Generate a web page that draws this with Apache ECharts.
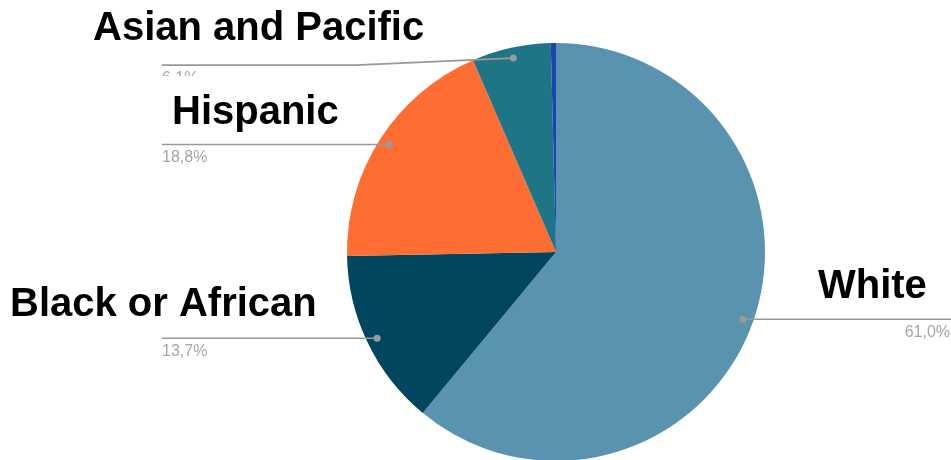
<!DOCTYPE html>
<html>
<head>
<meta charset="utf-8">
<script src="https://cdn.jsdelivr.net/npm/echarts@6/dist/echarts.min.js"></script>
<style>
html,body{margin:0;padding:0;background:#fff;}
#main{width:951px;height:460px;}
</style>
</head>
<body>
<div id="main"></div>
<script>
// ---- data ----
const categories = ['White', 'Black or African', 'Hispanic', 'Asian and Pacific', 'Other'];
const values = [61.0, 13.7, 18.8, 6.1, 0.4];
const showLabel = [true, true, true, true, false];
const sliceColors = ['#5a93b0', '#01455f', '#fe6d32', '#1e7585', '#1a44b0'];
// big category titles (text overlays)
const titleTexts = ['Asian and Pacific', 'Hispanic', 'Black or African', 'White'];
const titlePos = [[93, 29], [172, 113], [10, 305], [818, 287]];
// small extra vertical shift of a label line (px)
const lineDrop = [0, 0, 0, 7, 0];

const FONT = '"Liberation Sans", Arial, sans-serif';
const CX = 556, CY = 252, R = 209;
const dots = [];
const lines = [];

const chart = echarts.init(document.getElementById('main'), null, {renderer: 'canvas'});

function buildGraphic() {
  const g = [];
  titleTexts.forEach((t, i) => {
    g.push({
      type: 'text', id: 'title' + i, x: titlePos[i][0], y: titlePos[i][1], z: 50,
      style: {text: t, fill: '#000', font: 'bold 40px ' + FONT, verticalAlign: 'middle'}
    });
  });
  g.push({type: 'rect', id: 'mask', z: 60, shape: {x: 150, y: 76, width: 120, height: 16}, style: {fill: '#fff'}});
  lines.forEach((pts, i) => {
    if (!pts) return;
    g.push({type: 'polyline', id: 'line' + i, z: 65, shape: {points: pts}, style: {stroke: '#999', lineWidth: 1.6, fill: null}});
  });
  dots.forEach((d, i) => {
    if (!d) return;
    g.push({type: 'circle', id: 'dot' + i, z: 70, shape: {cx: d[0], cy: d[1], r: 3.5}, style: {fill: '#9a9a9a'}});
  });
  return g;
}

const option = {
  animation: false,
  backgroundColor: '#fff',
  series: [{
    type: 'pie',
    center: [CX, CY],
    radius: [0, R],
    startAngle: 90,
    clockwise: true,
    avoidLabelOverlap: false,
    itemStyle: {borderWidth: 0},
    emphasis: {disabled: true},
    data: categories.map((c, i) => ({
      name: c,
      value: values[i],
      itemStyle: {color: sliceColors[i]},
      label: {show: showLabel[i]},
      labelLine: {show: showLabel[i]}
    })),
    label: {
      show: true,
      position: 'outside',
      color: '#a6a6a6',
      fontSize: 16,
      fontFamily: FONT,
      formatter: (p) => p.value.toFixed(1).replace('.', ',') + '%'
    },
    labelLine: {
      show: true,
      length: 20,
      length2: 40,
      lineStyle: {color: '#999', width: 1.6, opacity: 0}
    },
    labelLayout: function (p) {
      const pts = p.labelLinePoints;
      if (!pts || !pts.length) return {};
      const p0 = pts[0];
      const dot = [CX + (p0[0] - CX) * 0.95, CY + (p0[1] - CY) * 0.95];
      const left = dot[0] < CX;
      const ex = left ? 162 : 951;
      const ly = dot[1] + (lineDrop[p.dataIndex] || 0);
      const mx = dot[0] + (ex - dot[0]) * 0.45;
      const linePts = [dot, [mx, ly], [ex, ly]];
      dots[p.dataIndex] = dot;
      lines[p.dataIndex] = linePts;
      return {
        x: left ? ex : ex - 1,
        y: ly + 13,
        align: left ? 'left' : 'right',
        verticalAlign: 'middle',
        labelLinePoints: linePts
      };
    }
  }],
  graphic: buildGraphic()
};

chart.setOption(option);
chart.setOption({graphic: buildGraphic()});
</script>
</body>
</html>
